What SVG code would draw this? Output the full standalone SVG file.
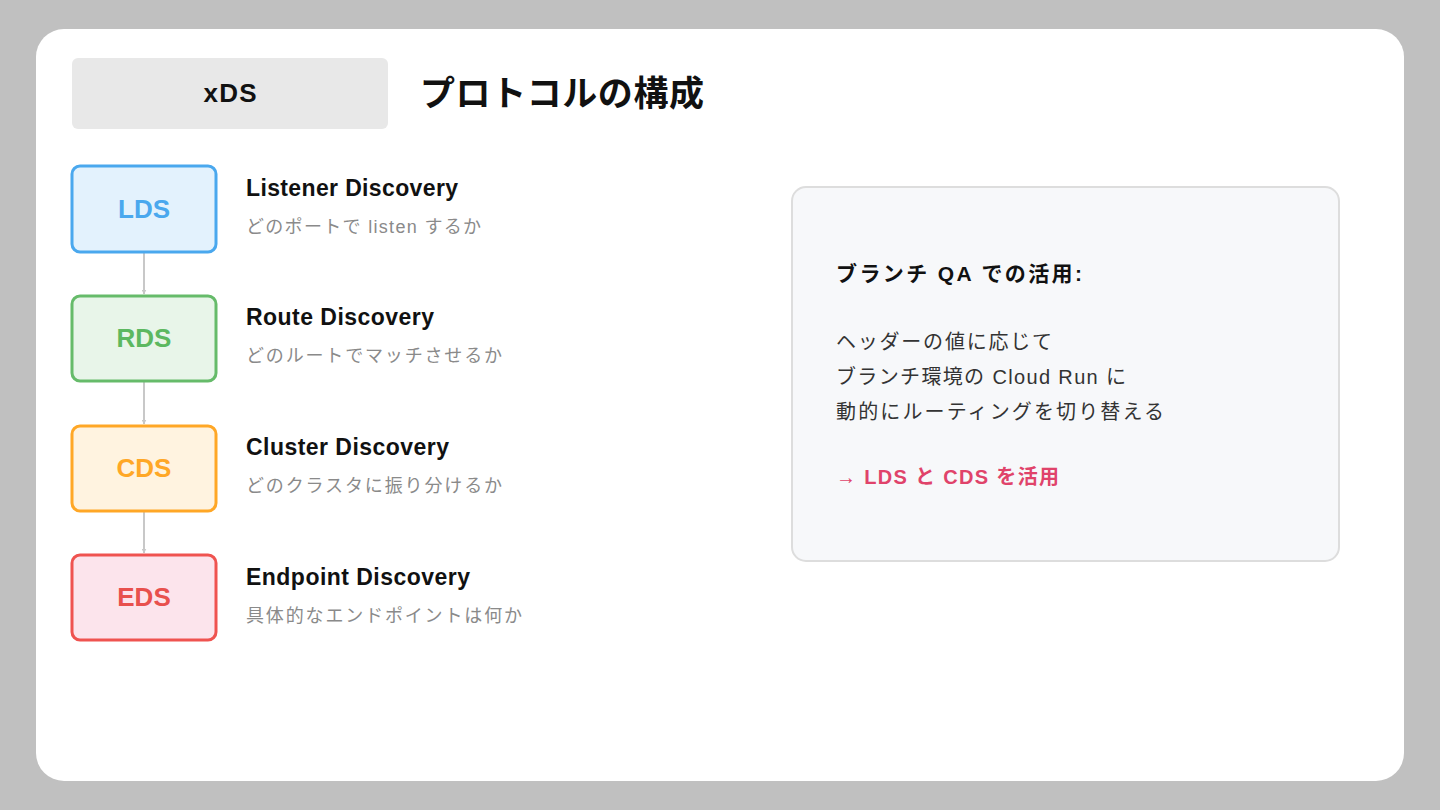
<svg xmlns="http://www.w3.org/2000/svg" width="1440" height="810" viewBox="0 0 1440 810">
<defs>
<style>
text{font-family:"Liberation Sans","Noto Sans CJK JP",sans-serif}
.abbr{font-size:26px;font-weight:bold;text-anchor:middle}
.nt{font-size:23px;font-weight:bold;fill:#111}
.ns{font-size:18px;fill:#8a8a8a}
.body{font-size:20px;fill:#333}
.conn{stroke:#c8c8c8;stroke-width:2;fill:none}
</style>
<marker id="arr" viewBox="0 0 10 10" refX="9" refY="5" markerWidth="5" markerHeight="5" orient="auto" markerUnits="userSpaceOnUse">
<path d="M0,0 L10,5 L0,10 z" fill="#c8c8c8"/>
</marker>
</defs>
<rect width="1440" height="810" fill="#c0c0c0"/>
<rect x="36" y="29" width="1368" height="752" rx="28" fill="#ffffff"/>
<g id="header">
<rect x="72" y="58" width="316" height="71" rx="6" fill="#e8e8e8"/>
<text x="230" y="102" class="abbr" fill="#111" textLength="53" lengthAdjust="spacing">xDS</text>
<text x="420" y="106" font-size="35" font-weight="bold" fill="#111" textLength="284" lengthAdjust="spacing">プロトコルの構成</text>
</g>
<g id="connectors">
<line x1="144" y1="253" x2="144" y2="294" class="conn" marker-end="url(#arr)"/>
<line x1="144" y1="382" x2="144" y2="424" class="conn" marker-end="url(#arr)"/>
<line x1="144" y1="512" x2="144" y2="553" class="conn" marker-end="url(#arr)"/>
</g>
<g id="lds">
<rect x="72" y="166" width="144" height="86" rx="8" fill="#e3f2fd" stroke="#4aa8ee" stroke-width="3"/>
<text x="144" y="218" class="abbr" fill="#4aa8ee">LDS</text>
<text x="246" y="196" class="nt" textLength="212" lengthAdjust="spacing">Listener Discovery</text>
<text x="246" y="233" class="ns" textLength="235" lengthAdjust="spacing">どのポートで listen するか</text>
</g>
<g id="rds">
<rect x="72" y="296" width="144" height="85" rx="8" fill="#e8f5e9" stroke="#66bb6a" stroke-width="3"/>
<text x="144" y="347" class="abbr" fill="#5cb860">RDS</text>
<text x="246" y="325" class="nt" textLength="188" lengthAdjust="spacing">Route Discovery</text>
<text x="246" y="362" class="ns" textLength="256" lengthAdjust="spacing">どのルートでマッチさせるか</text>
</g>
<g id="cds">
<rect x="72" y="426" width="144" height="85" rx="8" fill="#fff3e0" stroke="#ffa726" stroke-width="3"/>
<text x="144" y="477" class="abbr" fill="#ffa726">CDS</text>
<text x="246" y="455" class="nt" textLength="203" lengthAdjust="spacing">Cluster Discovery</text>
<text x="246" y="492" class="ns" textLength="256" lengthAdjust="spacing">どのクラスタに振り分けるか</text>
</g>
<g id="eds">
<rect x="72" y="555" width="144" height="85" rx="8" fill="#fce4ec" stroke="#ef5350" stroke-width="3"/>
<text x="144" y="606" class="abbr" fill="#e8504d">EDS</text>
<text x="246" y="585" class="nt" textLength="224" lengthAdjust="spacing">Endpoint Discovery</text>
<text x="246" y="622" class="ns" textLength="276" lengthAdjust="spacing">具体的なエンドポイントは何か</text>
</g>
<g id="panel">
<rect x="792" y="187" width="547" height="374" rx="14" fill="#f7f8fa" stroke="#dddddd" stroke-width="2"/>
<text x="836" y="281" font-size="21" font-weight="bold" fill="#111" textLength="246" lengthAdjust="spacing">ブランチ QA での活用:</text>
<text x="836" y="349" class="body" textLength="216" lengthAdjust="spacing">ヘッダーの値に応じて</text>
<text x="836" y="384" class="body" textLength="290" lengthAdjust="spacing">ブランチ環境の Cloud Run に</text>
<text x="836" y="419" class="body" textLength="328" lengthAdjust="spacing">動的にルーティングを切り替える</text>
<text x="836" y="484" font-size="20" font-weight="bold" fill="#e0436a" textLength="223" lengthAdjust="spacing">→ LDS と CDS を活用</text>
</g>
</svg>
